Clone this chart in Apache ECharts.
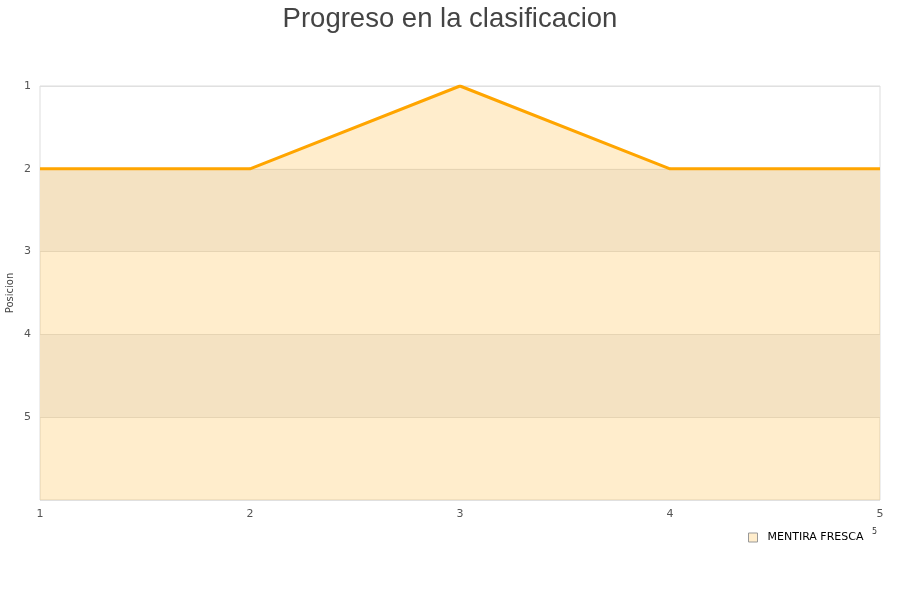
<!DOCTYPE html>
<html><head><meta charset="utf-8">
<script src="https://cdn.jsdelivr.net/npm/echarts@6/dist/echarts.min.js"></script>
<style>html,body{margin:0;padding:0;background:#fff}#c{width:900px;height:600px}</style>
</head><body><div id="c"></div>
<script>
const jornadas = [1, 2, 3, 4, 5];
const posiciones = [2, 2, 1, 2, 2];
const seriesName = 'MENTIRA FRESCA';
const yTicks = [1, 2, 3, 4, 5];

const chart = echarts.init(document.getElementById('c'), null, {renderer: 'canvas'});
chart.setOption({
  animation: false,
  backgroundColor: '#fff',
  title: {
    text: 'Progreso en la clasificacion',
    left: 'center', top: 0,
    textStyle: {fontFamily: 'Liberation Sans', fontSize: 27.5, fontWeight: 'normal', color: '#444'}
  },
  legend: {
    data: [{name: seriesName, icon: 'rect', itemStyle: {color: '#FFEDCC', borderColor: '#999', borderWidth: 1}}],
    left: 743, top: 527, itemWidth: 9, itemHeight: 9, itemGap: 8,
    textStyle: {fontFamily: 'DejaVu Sans', fontSize: 11, color: '#000', padding: [0, 0, 0, 5]}
  },
  grid: {left: 40, right: 20, top: 86, bottom: 100, outerBoundsMode: 'none', containLabel: false,
    show: true, borderColor: '#ddd', borderWidth: 1, backgroundColor: 'transparent'},
  xAxis: {
    type: 'value', min: 1, max: 5, interval: 1,
    axisLine: {show: false}, axisTick: {show: false}, splitLine: {show: false},
    axisLabel: {fontFamily: 'DejaVu Sans', fontSize: 11, color: '#555', margin: 9}
  },
  yAxis: {
    type: 'value', inverse: true, min: 1, max: 6, interval: 1,
    name: 'Posicion', nameLocation: 'middle', nameGap: 25, nameMoveOverlap: false,
    nameTextStyle: {fontFamily: 'DejaVu Sans', fontSize: 10, color: '#444'},
    axisLine: {show: false}, axisTick: {show: false},
    axisLabel: {fontFamily: 'DejaVu Sans', fontSize: 11, color: '#555', margin: 9,
      formatter: v => yTicks.includes(v) ? String(v) : ''},
    splitLine: {show: true, lineStyle: {color: '#e0e0e0', width: 1}},
    splitArea: {show: true, areaStyle: {color: ['rgba(0,0,0,0)', '#f2f2f3']}}
  },
  graphic: [{type: 'text', left: 872, top: 528, style: {text: '5', fontFamily: 'DejaVu Sans', fontSize: 8, fill: '#333'}}],
  series: [{
    name: seriesName, type: 'line',
    data: jornadas.map((j, i) => [j, posiciones[i]]),
    showSymbol: false,
    lineStyle: {color: '#FFA500', width: 3},
    itemStyle: {color: '#FFEDCC', borderColor: '#999'},
    areaStyle: {color: 'rgba(255,165,0,0.2)', opacity: 1, origin: 'end'}
  }]
});
</script></body></html>
